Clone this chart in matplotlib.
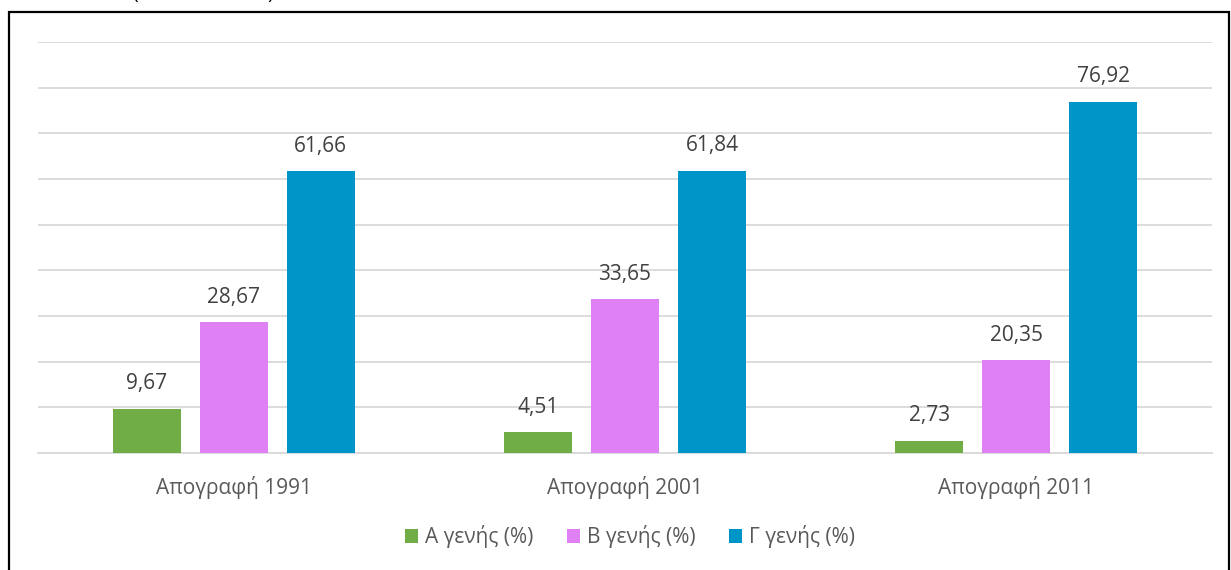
import matplotlib
matplotlib.use("Agg")
import matplotlib.pyplot as plt
import numpy as np
from matplotlib.patches import Rectangle

categories = ["Απογραφή 1991", "Απογραφή 2001", "Απογραφή 2011"]
series_names = ["Α γενής (%)", "Β γενής (%)", "Γ γενής (%)"]
a_gen = [9.67, 4.51, 2.73]
b_gen = [28.67, 33.65, 20.35]
c_gen = [61.66, 61.84, 76.92]
colors = ["#70AD47", "#DF80F5", "#0095C9"]

plt.rcParams['font.family'] = ['Open Sans', 'DejaVu Sans']
FS = 15

W, H = 1231, 570
fig = plt.figure(figsize=(W / 100, H / 100), dpi=100)
ax = fig.add_axes([38 / W, (H - 453) / H, (1212 - 38) / W, (453 - 42) / H])

x = np.arange(len(categories))
width = 0.174
offsets = [-0.2225, 0, 0.2225]
for vals, off, col, name in zip([a_gen, b_gen, c_gen], offsets, colors, series_names):
    bars = ax.bar(x + off, vals, width, color=col, label=name, zorder=3)
    for b, v in zip(bars, vals):
        ax.annotate(f"{v:.2f}".replace(".", ","), (b.get_x() + b.get_width() / 2, v),
                    xytext=(0, 18), textcoords="offset points",
                    ha="center", va="center", fontsize=FS, color="#404040")

ax.set_xlim(-0.5, 2.5)
ax.set_ylim(0, 90)
ax.set_yticks(np.arange(0, 91, 10))
ax.yaxis.grid(True, color="#D9D9D9", linewidth=1.3, zorder=0)
ax.tick_params(axis="y", left=False, labelleft=False)
ax.tick_params(axis="x", bottom=False, labelsize=FS, labelcolor="#595959", pad=13)
ax.set_xticks(x)
ax.set_xticklabels(categories)
for s in ["top", "right", "left"]:
    ax.spines[s].set_visible(False)
ax.spines["bottom"].set_color("#D9D9D9")
ax.spines["bottom"].set_linewidth(1.3)
ax.set_axisbelow(True)

leg = fig.legend(loc="center", bbox_to_anchor=(630 / W, (H - 537) / H), ncol=3, frameon=False,
                 fontsize=FS, handlelength=0.62, handleheight=0.62, handletextpad=0.35,
                 columnspacing=1.6)
for t in leg.get_texts():
    t.set_color("#595959")

# outer border of chart frame
fig.add_artist(Rectangle((9 / W, -0.05), (1229 - 9) / W, (H - 12) / H + 0.05,
                         transform=fig.transFigure, fill=False, edgecolor="black",
                         linewidth=1.6))
# cut-off title fragment at the top
fig.text(132 / W, 1 + 6 / H, "(", ha="left", va="center", fontsize=14, color="black")
fig.text(267 / W, 1 + 6 / H, ")", ha="left", va="center", fontsize=14, color="black")

fig.savefig("out.png", dpi=100)
